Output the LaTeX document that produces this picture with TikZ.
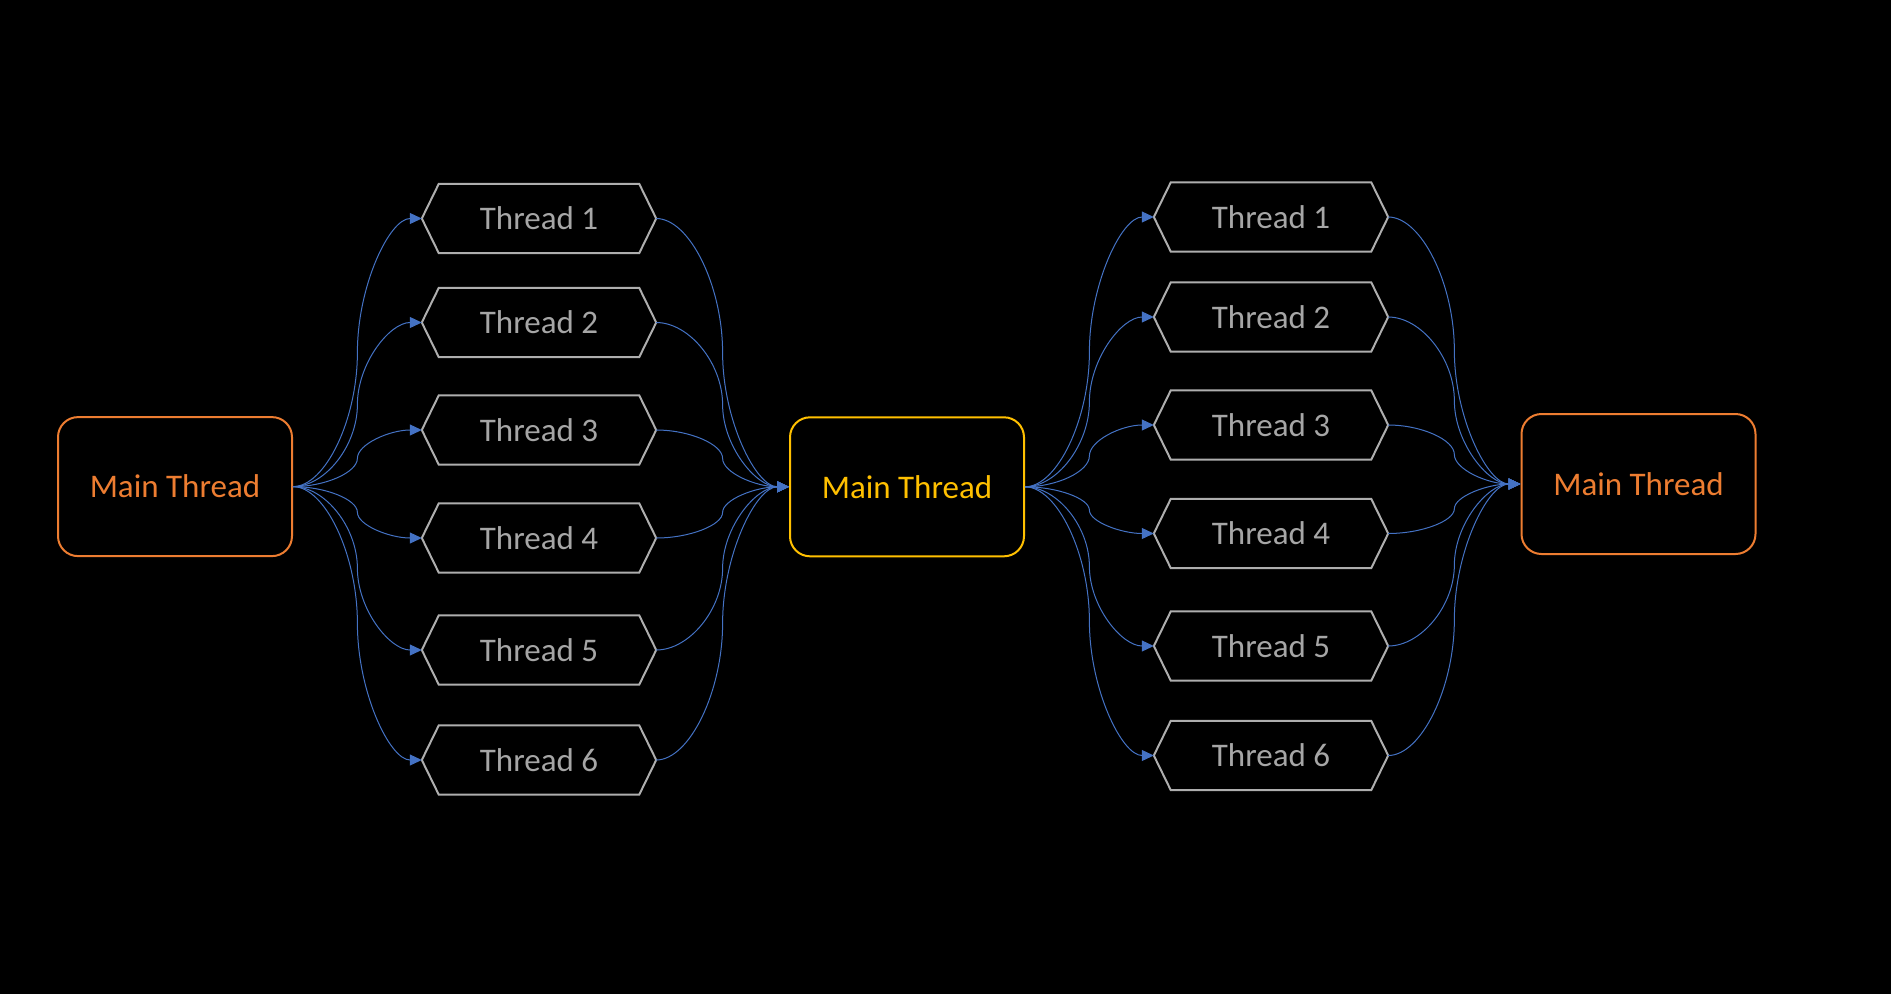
\documentclass[tikz,border=0pt]{standalone}
\usepackage{fontspec}
\setmainfont{Carlito}
\usetikzlibrary{arrows.meta,calc}
\definecolor{morange}{HTML}{ED7D31}
\definecolor{mgold}{HTML}{FFC000}
\definecolor{cblue}{HTML}{4472C4}
\definecolor{tgray}{HTML}{A6A6A6}
\definecolor{hgray}{HTML}{AEAEAE}
\newcommand{\conn}[2]{%
  \draw[connline] let \p1=(#1.east), \p2=(#2.west), \p3=($(\p1)!.5!(\p2)$) in
    (\p1) .. controls ({(\x1+\x3)/2},\y1) and (\x3,{(3*\y1+\y2)/4}) .. (\x3,\y3)
          .. controls (\x3,{(\y1+3*\y2)/4}) and ({(\x2+\x3)/2},\y2) .. (\p2);}
\begin{document}
\begin{tikzpicture}[x=1pt,y=-1pt,
  mainbox/.style={rectangle, rounded corners=20pt, minimum width=234pt, minimum height=139pt,
    line width=2pt, inner sep=0pt, font=\fontsize{33}{40}\selectfont},
  hexnode/.style={rectangle, minimum width=234pt, minimum height=69pt, inner sep=0pt,
    text=tgray, font=\fontsize{33}{40}\selectfont},
  hexline/.style={draw=hgray, line width=2pt, line join=miter},
  connline/.style={draw=cblue, line width=1pt, -{Triangle[length=12pt,width=11pt]}}]
\fill[black] (0,0) rectangle (1891,994);
\useasboundingbox (0,0) rectangle (1891,994);

\node[mainbox, draw=morange, text=morange] (m1) at (175,486.6) {Main Thread};
\node[mainbox, draw=mgold, text=mgold] (m2) at (907,486.8) {Main Thread};
\node[mainbox, draw=morange, text=morange, minimum height=140pt] (m3) at (1638.5,484) {Main Thread};

\foreach \i/\y in {1/218.5, 2/322.5, 3/430, 4/538, 5/650, 6/760}
  \node[hexnode] (a\i) at (539,\y) {Thread \i};
\foreach \i/\y in {1/217, 2/317, 3/425, 4/533.5, 5/646, 6/755.5}
  \node[hexnode] (b\i) at (1271,\y) {Thread \i};

\foreach \n in {a1,a2,a3,a4,a5,a6,b1,b2,b3,b4,b5,b6}
  \draw[hexline] (\n.west) -- ([xshift=17pt]\n.north west) -- ([xshift=-17pt]\n.north east)
    -- (\n.east) -- ([xshift=-17pt]\n.south east) -- ([xshift=17pt]\n.south west) -- cycle;

\foreach \i in {1,...,6} {
  \conn{m1}{a\i}
  \conn{a\i}{m2}
  \conn{m2}{b\i}
  \conn{b\i}{m3}
}
\end{tikzpicture}
\end{document}
